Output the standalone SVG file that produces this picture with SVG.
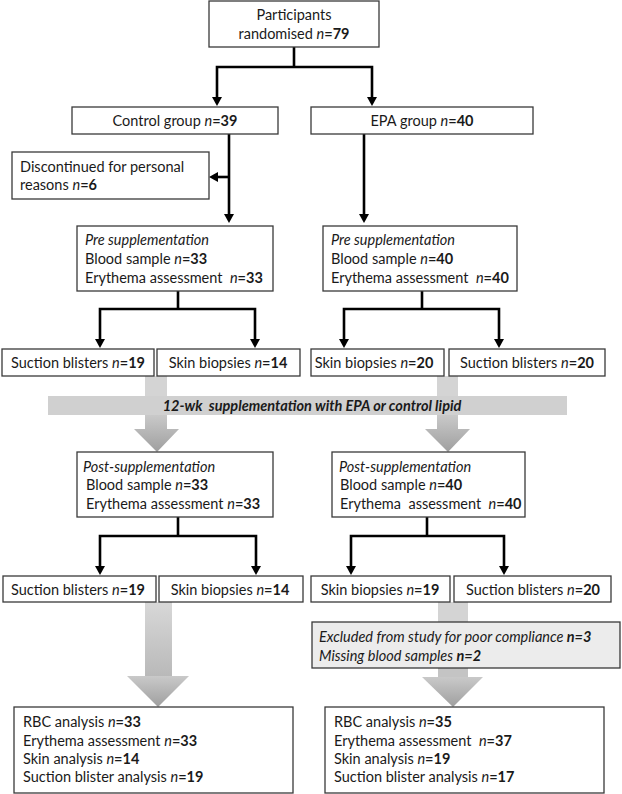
<svg xmlns="http://www.w3.org/2000/svg" width="622" height="794" viewBox="0 0 622 794">
<style>
.box{fill:#fff;stroke:#3a3a3a;stroke-width:1.3}
.gbox{fill:#ececec;stroke:#3a3a3a;stroke-width:1.3}
text{font-family:Lato,"Noto Sans",sans-serif;font-size:14.5px;fill:#1a1a1a}
.c{text-anchor:middle}
.i{font-style:italic}
.b{font-weight:bold}
.ln{fill:none;stroke:#000;stroke-width:2.6}
.pre{white-space:pre}
</style>
<defs>
<marker id="ah" viewBox="0 0 9 10" refX="0" refY="5" markerWidth="9" markerHeight="10" markerUnits="userSpaceOnUse" orient="auto-start-reverse">
<path d="M0,0 L9,5 L0,10 z" fill="#000"/>
</marker>
<linearGradient id="gs" x1="0" y1="0" x2="0" y2="1">
<stop offset="0" stop-color="#d8d8d8"/>
<stop offset="1" stop-color="#b9b9b9"/>
</linearGradient>
<linearGradient id="gh" x1="0" y1="0" x2="0" y2="1">
<stop offset="0" stop-color="#c9c9c9"/>
<stop offset="1" stop-color="#9f9f9f"/>
</linearGradient>
</defs>

<g id="connectors">
<path class="ln" d="M294,47 V67"/>
<path class="ln" d="M217,97 V67 H372 V97" marker-start="url(#ah)" marker-end="url(#ah)"/>
<path class="ln" d="M229,134 V214" marker-end="url(#ah)"/>
<path class="ln" d="M229,177 H218" marker-end="url(#ah)"/>
<path class="ln" d="M364,134 V214" marker-end="url(#ah)"/>
<path class="ln" d="M178,291 V309"/>
<path class="ln" d="M100,339 V309 H255 V339" marker-start="url(#ah)" marker-end="url(#ah)"/>
<path class="ln" d="M422,291 V309"/>
<path class="ln" d="M344,339 V309 H499 V339" marker-start="url(#ah)" marker-end="url(#ah)"/>
<path class="ln" d="M178,517 V536"/>
<path class="ln" d="M100,566 V536 H256 V566" marker-start="url(#ah)" marker-end="url(#ah)"/>
<path class="ln" d="M427,517 V536"/>
<path class="ln" d="M351,566 V536 H504 V566" marker-start="url(#ah)" marker-end="url(#ah)"/>
<rect x="145" y="376" width="22" height="20" fill="#d4d4d4"/>
<rect x="437" y="376" width="21" height="20" fill="#d4d4d4"/>
<path d="M145,415 H167 V429 H179 L157,452 L134,429 H145 Z" fill="url(#gh)"/>
<path d="M437,415 H458 V429 H470 L448,452 L425,429 H437 Z" fill="url(#gh)"/>
<rect x="145" y="602" width="27" height="74" fill="url(#gs)"/>
<path d="M127,676 H189 L158,707 Z" fill="url(#gh)"/>
<rect x="438" y="602" width="30" height="20" fill="#d4d4d4"/>
<rect x="438" y="668" width="30" height="9" fill="#c4c4c4"/>
<path d="M422,677 H483 L453,707 Z" fill="url(#gh)"/>
</g>

<g id="band">
<rect x="48" y="396" width="519" height="19" fill="#d0d0d0"/>
<text class="c i b pre" x="312" y="411">12-wk  supplementation with EPA or control lipid</text>
</g>

<g id="randomised">
<rect class="box" x="209" y="1" width="170" height="46"/>
<text class="c" x="294" y="20">Participants</text>
<text class="c" x="294" y="39">randomised <tspan class="i">n</tspan><tspan class="b">=79</tspan></text>
</g>

<g id="control">
<rect class="box" x="72" y="107" width="206" height="27"/>
<text class="c" x="175" y="126">Control group <tspan class="i">n</tspan><tspan class="b">=39</tspan></text>
</g>

<g id="epa">
<rect class="box" x="311" y="107" width="222" height="27"/>
<text class="c" x="422" y="126">EPA group <tspan class="i">n</tspan><tspan class="b">=40</tspan></text>
</g>

<g id="discontinued">
<rect class="box" x="12" y="152" width="197" height="47"/>
<text x="20" y="172">Discontinued for personal</text>
<text x="20" y="190">reasons <tspan class="i">n</tspan><tspan class="b">=6</tspan></text>
</g>

<g id="pre-control">
<rect class="box" x="77" y="226" width="196" height="65"/>
<text class="i" x="85" y="245">Pre supplementation</text>
<text x="85" y="264">Blood sample <tspan class="i">n</tspan><tspan class="b">=33</tspan></text>
<text class="pre" x="85" y="283">Erythema assessment  <tspan class="i">n</tspan><tspan class="b">=33</tspan></text>
</g>

<g id="pre-epa">
<rect class="box" x="323" y="226" width="194" height="65"/>
<text class="i" x="331" y="245">Pre supplementation</text>
<text x="331" y="264">Blood sample <tspan class="i">n</tspan><tspan class="b">=40</tspan></text>
<text class="pre" x="331" y="283">Erythema assessment  <tspan class="i">n</tspan><tspan class="b">=40</tspan></text>
</g>

<g id="pre-control-blisters">
<rect class="box" x="2" y="349" width="152" height="27"/>
<text class="c" x="78" y="368">Suction blisters <tspan class="i">n</tspan><tspan class="b">=19</tspan></text>
</g>
<g id="pre-control-biopsies">
<rect class="box" x="157" y="349" width="143" height="27"/>
<text class="c" x="228" y="368">Skin biopsies  <tspan class="i">n</tspan><tspan class="b">=14</tspan></text>
</g>
<g id="pre-epa-biopsies">
<rect class="box" x="311" y="349" width="133" height="27"/>
<text class="c" x="374" y="368">Skin biopsies <tspan class="i">n</tspan><tspan class="b">=20</tspan></text>
</g>
<g id="pre-epa-blisters">
<rect class="box" x="449" y="349" width="156" height="27"/>
<text class="c" x="527" y="368">Suction blisters <tspan class="i">n</tspan><tspan class="b">=20</tspan></text>
</g>

<g id="post-control">
<rect class="box" x="77" y="452" width="196" height="65"/>
<text class="i" x="83" y="472">Post-supplementation</text>
<text x="86" y="490">Blood sample <tspan class="i">n</tspan><tspan class="b">=33</tspan></text>
<text x="86" y="509">Erythema assessment <tspan class="i">n</tspan><tspan class="b">=33</tspan></text>
</g>

<g id="post-epa">
<rect class="box" x="332" y="452" width="193" height="65"/>
<text class="i" x="339" y="472">Post-supplementation</text>
<text x="340" y="490">Blood sample <tspan class="i">n</tspan><tspan class="b">=40</tspan></text>
<text class="pre" x="340" y="509">Erythema  assessment  <tspan class="i">n</tspan><tspan class="b">=40</tspan></text>
</g>

<g id="post-control-blisters">
<rect class="box" x="3" y="576" width="153" height="26"/>
<text class="c" x="78" y="595">Suction blisters <tspan class="i">n</tspan><tspan class="b">=19</tspan></text>
</g>
<g id="post-control-biopsies">
<rect class="box" x="159" y="576" width="144" height="26"/>
<text class="c" x="230" y="595">Skin biopsies <tspan class="i">n</tspan><tspan class="b">=14</tspan></text>
</g>
<g id="post-epa-biopsies">
<rect class="box" x="311" y="576" width="139" height="26"/>
<text class="c" x="380" y="595">Skin biopsies <tspan class="i">n</tspan><tspan class="b">=19</tspan></text>
</g>
<g id="post-epa-blisters">
<rect class="box" x="454" y="576" width="157" height="26"/>
<text class="c" x="533" y="595">Suction blisters <tspan class="i">n</tspan><tspan class="b">=20</tspan></text>
</g>

<g id="excluded">
<rect class="gbox" x="312" y="622" width="308" height="46"/>
<text class="i" x="319" y="642">Excluded from study for poor compliance <tspan class="b">n=3</tspan></text>
<text class="i" x="319" y="661">Missing blood samples <tspan class="b">n=2</tspan></text>
</g>

<g id="final-control">
<rect class="box" x="14" y="707" width="279" height="86"/>
<text x="23" y="727">RBC analysis <tspan class="i">n</tspan><tspan class="b">=33</tspan></text>
<text x="23" y="746">Erythema assessment <tspan class="i">n</tspan><tspan class="b">=33</tspan></text>
<text x="23" y="764">Skin analysis <tspan class="i">n</tspan><tspan class="b">=14</tspan></text>
<text x="23" y="782">Suction blister analysis <tspan class="i">n</tspan><tspan class="b">=19</tspan></text>
</g>

<g id="final-epa">
<rect class="box" x="325" y="707" width="279" height="86"/>
<text x="334" y="727">RBC analysis <tspan class="i">n</tspan><tspan class="b">=35</tspan></text>
<text class="pre" x="334" y="746">Erythema assessment  <tspan class="i">n</tspan><tspan class="b">=37</tspan></text>
<text x="334" y="764">Skin analysis <tspan class="i">n</tspan><tspan class="b">=19</tspan></text>
<text x="334" y="782">Suction blister analysis <tspan class="i">n</tspan><tspan class="b">=17</tspan></text>
</g>
</svg>
